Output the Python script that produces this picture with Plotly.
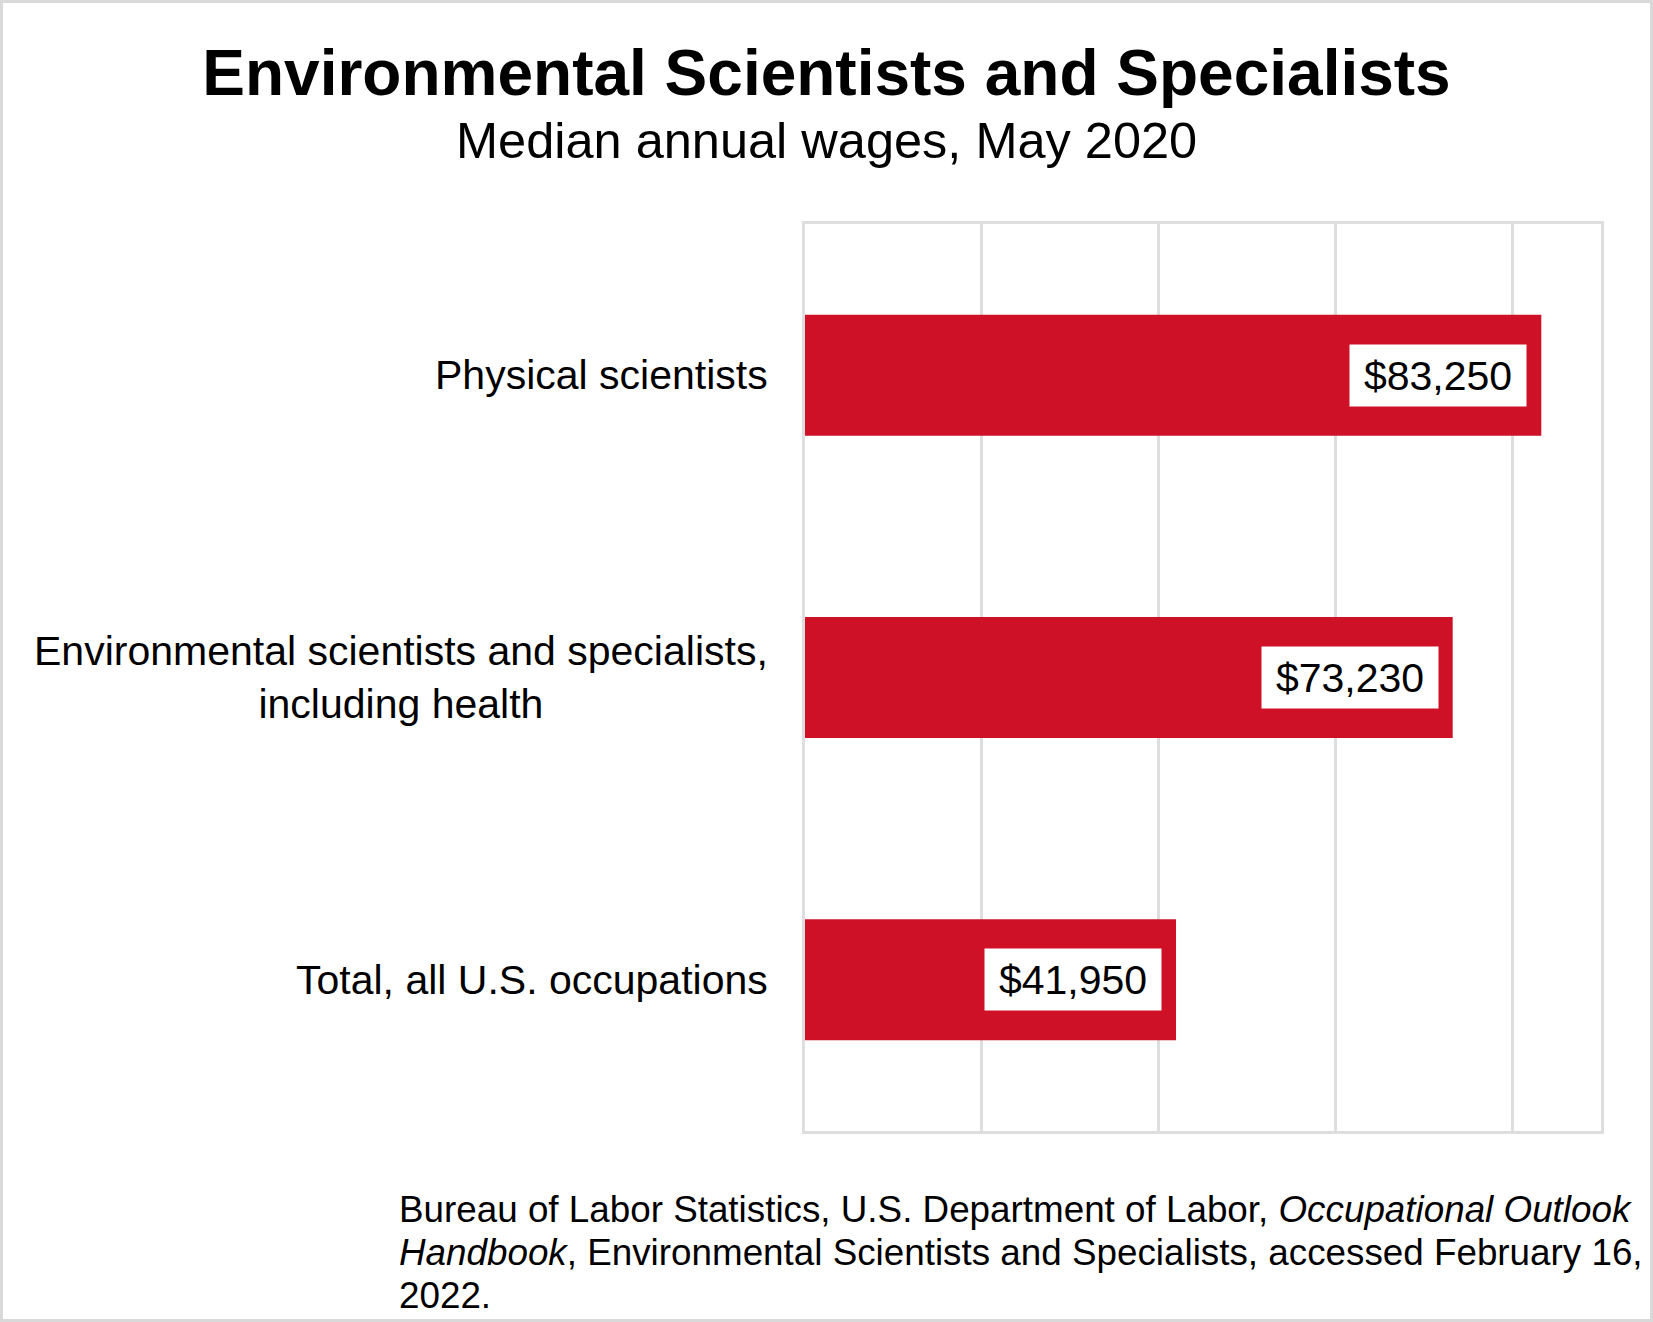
import plotly.graph_objects as go

# ---- data ----
categories = [
    "Physical scientists",
    "Environmental scientists and specialists,<br>including health",
    "Total, all U.S. occupations",
]
wages = [83250, 73230, 41950]
x_ticks = [0, 20000, 40000, 60000, 80000]

title_text = "Environmental Scientists and Specialists"
subtitle_text = "Median annual wages, May 2020"
source_lines = [
    "Bureau of Labor Statistics, U.S. Department of Labor, <i>Occupational Outlook</i>",
    "<i>Handbook</i>, Environmental Scientists and Specialists, accessed February 16,",
    "2022.",
]

# ---- layout constants ----
W, H = 1653, 1322
L, R, T, B = 805, 52, 224, 191
PW, PH = W - L - R, H - T - B
FONT = "Liberation Sans, Arial, sans-serif"
BAR_COLOR = "#CE1126"
GRID = "#DEDEDE"


def px_x(p):
    return (p - L) / PW


def px_y(p):
    return (H - B - p) / PH


fig = go.Figure()
fig.add_trace(go.Bar(
    x=wages, y=categories, orientation="h",
    marker=dict(color=BAR_COLOR, line=dict(width=0)),
    width=0.4, hoverinfo="skip",
))

annotations = []
# category labels
for c in categories:
    annotations.append(dict(
        x=0, xref="paper", y=c, yref="y", text=c, showarrow=False,
        xanchor="right", yanchor="middle", align="center", xshift=-35,
        font=dict(family=FONT, size=41, color="#000000"),
    ))
# value labels in white boxes
for c, v in zip(categories, wages):
    annotations.append(dict(
        x=v, xref="x", y=c, yref="y", text=f"${v:,}", showarrow=False,
        xanchor="right", yanchor="middle", xshift=-14,
        width=176, height=61, borderpad=0, bgcolor="#FFFFFF", align="center",
        font=dict(family=FONT, size=41, color="#000000"),
    ))
# subtitle
annotations.append(dict(
    x=px_x(W / 2), xref="paper", y=px_y(140), yref="paper", text=subtitle_text,
    showarrow=False, xanchor="center", yanchor="middle",
    font=dict(family=FONT, size=50.5, color="#000000"),
))
# source lines
for i, line in enumerate(source_lines):
    annotations.append(dict(
        x=px_x(397), xref="paper", y=px_y(1209 + 43 * i), yref="paper", text=line,
        showarrow=False, xanchor="left", yanchor="middle", align="left",
        font=dict(family=FONT, size=36.8, color="#000000"),
    ))

fig.update_layout(
    width=W, height=H,
    margin=dict(l=L, r=R, t=T, b=B, pad=0),
    paper_bgcolor="#FFFFFF", plot_bgcolor="#FFFFFF",
    showlegend=False,
    title=dict(
        text=f"<b>{title_text}</b>", x=0.5, xref="container", xanchor="center",
        y=1 - 73 / H, yref="container", yanchor="middle",
        font=dict(family=FONT, size=64, color="#000000"),
    ),
    xaxis=dict(
        range=[0, 90000], tickvals=x_ticks, showticklabels=False,
        showgrid=True, gridcolor=GRID, gridwidth=2.5, zeroline=False,
        showline=True, mirror=True, linecolor=GRID, linewidth=2.5, ticks="",
        fixedrange=True,
    ),
    yaxis=dict(
        categoryorder="array", categoryarray=categories, autorange="reversed",
        showticklabels=False, showgrid=False, zeroline=False,
        showline=True, mirror=True, linecolor=GRID, linewidth=2.5, ticks="",
        fixedrange=True,
    ),
    annotations=annotations,
    shapes=[dict(
        type="rect", xref="paper", yref="paper",
        x0=px_x(1.5), x1=px_x(W - 1.5), y0=px_y(H - 1.5), y1=px_y(1.5),
        line=dict(color="#D9D9D9", width=3), fillcolor="rgba(0,0,0,0)",
        layer="above",
    )],
)

fig.write_html(
    "out.html",
    config={"displayModeBar": False},
    post_script="document.body.style.margin='0';document.body.style.padding='0';document.body.style.overflow='hidden';",
)
